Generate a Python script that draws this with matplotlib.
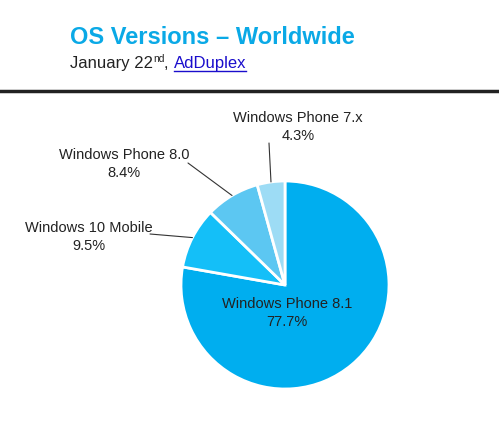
import numpy as np
import matplotlib
matplotlib.use("Agg")
import matplotlib.pyplot as plt

plt.rcParams['font.family'] = ['Liberation Sans', 'DejaVu Sans']

# data
names = ["Windows Phone 8.1", "Windows 10 Mobile", "Windows Phone 8.0", "Windows Phone 7.x"]
shares = [77.7, 9.5, 8.4, 4.3]
colors = ["#00aeef", "#14bff8", "#5cc7f2", "#9ddcf5"]

W, H = 499, 442
fig = plt.figure(figsize=(W / 100, H / 100), dpi=100)

# header
fig.text(70 / W, 1 - 37 / H, "OS Versions \u2013 Worldwide", color="#0aa9e6",
         fontsize=17, fontweight="bold", va="center", ha="left")
base = 1 - 68 / H
t1 = fig.text(70 / W, base, "January 22", color="#222222", fontsize=12,
              va="baseline", ha="left")
fig.canvas.draw()
r = fig.canvas.get_renderer()
bb = t1.get_window_extent(r)
t2 = fig.text(bb.x1 / W, base + 6 / H, "nd", color="#222222", fontsize=7.5,
              va="baseline", ha="left")
bb2 = t2.get_window_extent(r)
t3 = fig.text(bb2.x1 / W, base, ", ", color="#222222", fontsize=12,
              va="baseline", ha="left")
bb3 = t3.get_window_extent(r)
t4 = fig.text(bb3.x1 / W, base, "AdDuplex", color="#1a0dcc", fontsize=12,
              va="baseline", ha="left")
bb4 = t4.get_window_extent(r)
fig.add_artist(plt.Line2D([bb4.x0 / W, bb4.x1 / W], [base - 3 / H, base - 3 / H],
                          color="#1a0dcc", lw=1))

# rule under header
fig.add_artist(plt.Line2D([0, 1], [1 - 91 / H, 1 - 91 / H], color="#222222", lw=2.5))

# pie
cx, cy, rad = 285, 285, 104
ax = fig.add_axes([(cx - rad) / W, (H - cy - rad) / H, 2 * rad / W, 2 * rad / H])
wedges, _ = ax.pie(shares, colors=colors, startangle=90, counterclock=False,
                   radius=1, wedgeprops=dict(edgecolor="white", linewidth=2))
ax.set_xlim(-1, 1)
ax.set_ylim(-1, 1)
ax.set_aspect("equal")
ax.axis("off")

# labels: text centre (px), leader start (px) or None
label_pos = [(287, 313), (89, 237), (124, 164), (298, 127)]
leader_start = [None, (150, 234), (188, 163), (269, 143)]

for i, (n, s) in enumerate(zip(names, shares)):
    lx, ly = label_pos[i]
    fig.text(lx / W, 1 - ly / H, f"{n}\n{s}%", fontsize=10.5, color="#222222",
             ha="center", va="center", linespacing=1.35)
    if leader_start[i] is not None:
        w = wedges[i]
        mid = np.deg2rad((w.theta1 + w.theta2) / 2)
        sx, sy = leader_start[i]
        ax.annotate("", xy=(np.cos(mid), np.sin(mid)), xycoords="data",
                    xytext=(sx, H - sy), textcoords="figure pixels",
                    arrowprops=dict(arrowstyle="-", color="#333333", lw=0.8,
                                    shrinkA=0, shrinkB=0))

fig.savefig("out.png", dpi=100)
